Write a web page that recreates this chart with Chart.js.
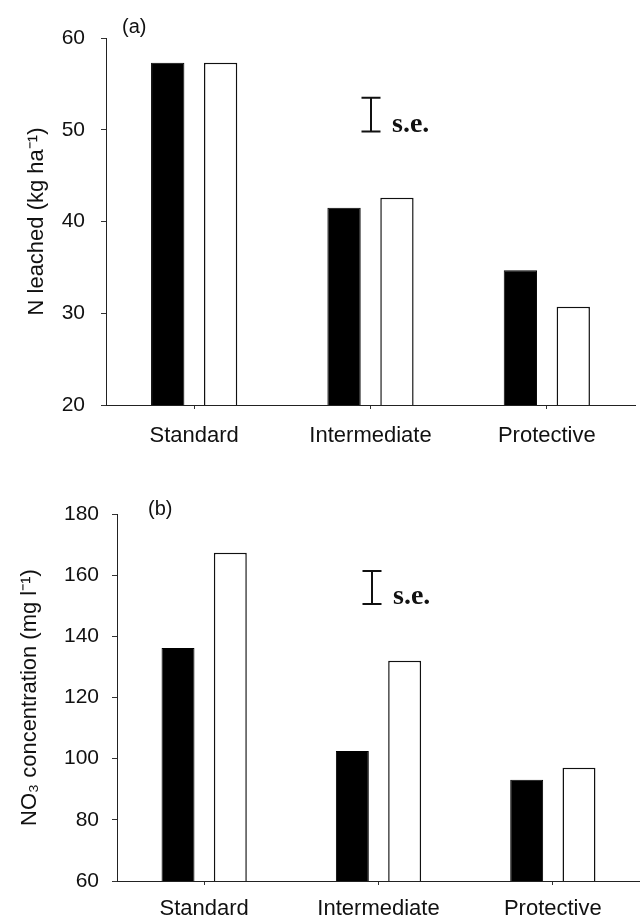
<!DOCTYPE html>
<html>
<head>
<meta charset="utf-8">
<script src="https://cdn.jsdelivr.net/npm/chart.js@4.4.1/dist/chart.umd.min.js"></script>
<style>
body{margin:0;background:#fff;width:640px;height:921px;position:relative;overflow:hidden;font-family:"Liberation Sans",Arial,sans-serif}
canvas{position:absolute;left:0}
#cvA{top:0}
#cvB{top:460px}
.tag{position:absolute;font-size:20px;color:#111;line-height:22px}
</style>
</head>
<body>
<canvas id="cvA" width="640" height="460"></canvas>
<canvas id="cvB" width="640" height="461"></canvas>
<div class="tag" style="left:122px;top:15px">(a)</div>
<div class="tag" style="left:148px;top:497px">(b)</div>
<script>
const systems = ['Standard', 'Intermediate', 'Protective'];

// (a) N leached, kg/ha
const leachedBlack = [57.3, 41.5, 34.7];
const leachedWhite = [57.3, 42.6, 30.7];
const leachedTicks = [20, 30, 40, 50, 60];
const leachedSE = [49.8, 53.5];

// (b) NO3 concentration, mg/l
const nitrateBlack = [136.2, 102.5, 93.1];
const nitrateWhite = [167.3, 132.0, 97.0];
const nitrateTicks = [60, 80, 100, 120, 140, 160, 180];
const nitrateSE = [150.6, 161.4];

const FONT = '"Liberation Sans", Arial, sans-serif';

// the little "I s.e." marker
const seBar = {
  id: 'seBar',
  afterDatasetsDraw(chart, args, opts) {
    const {ctx, scales: {x, y}} = chart;
    const px = Math.round(x.getPixelForValue(opts.at));
    const top = y.getPixelForValue(opts.range[1]);
    const bot = y.getPixelForValue(opts.range[0]);
    ctx.save();
    ctx.strokeStyle = '#111';
    ctx.lineWidth = 2;
    ctx.beginPath();
    ctx.moveTo(px, top); ctx.lineTo(px, bot);
    ctx.moveTo(px - 9.5, top); ctx.lineTo(px + 9.5, top);
    ctx.moveTo(px - 9.5, bot); ctx.lineTo(px + 9.5, bot);
    ctx.stroke();
    ctx.fillStyle = '#111';
    ctx.font = 'bold 28px "Liberation Serif", "Times New Roman", serif';
    ctx.textBaseline = 'alphabetic';
    ctx.fillText('s.e.', px + 21, bot);
    ctx.restore();
  }
};

function makePanel(id, black, white, ticks, se, cfg) {
  return new Chart(document.getElementById(id), {
    type: 'bar',
    data: {
      labels: systems,
      datasets: [{
        data: black,
        backgroundColor: '#000',
        borderColor: '#000',
        borderWidth: 1
      }, {
        data: white,
        backgroundColor: '#fff',
        borderColor: '#111',
        borderWidth: 1.5
      }]
    },
    plugins: [seBar],
    options: {
      responsive: false,
      animation: false,
      categoryPercentage: 0.6,
      barPercentage: 0.63,
      layout: {padding: {top: cfg.top, right: cfg.right, left: 0, bottom: 0}},
      plugins: {
        legend: {display: false},
        tooltip: {enabled: false},
        seBar: {at: cfg.seAt, range: se}
      },
      scales: {
        x: {
          // labels are clipped to the scale box, so keep it tall enough
          afterFit: s => { s.height = cfg.xHeight; },
          grid: {drawOnChartArea: false, offset: false, tickLength: 4, color: '#333'},
          border: {color: '#222', width: 1},
          ticks: {color: '#111', padding: cfg.xPad, font: {family: FONT, size: 22}}
        },
        y: {
          min: ticks[0],
          max: ticks[ticks.length - 1],
          afterFit: s => { s.width = cfg.yWidth; },
          grid: {drawOnChartArea: false, tickLength: 5, color: '#333'},
          border: {color: '#222', width: 1},
          ticks: {
            stepSize: ticks[1] - ticks[0],
            color: '#111',
            padding: cfg.yPad,
            font: {family: FONT, size: 21}
          },
          title: {
            display: true,
            text: cfg.title,
            color: '#111',
            padding: {top: cfg.titlePad, bottom: 0},
            font: {family: FONT, size: 22}
          }
        }
      }
    }
  });
}

makePanel('cvA', leachedBlack, leachedWhite, leachedTicks, leachedSE, {
  top: 38, right: 5, xHeight: 55, yWidth: 106, xPad: 14, yPad: 16, titlePad: 24,
  seAt: 1.0, title: 'N leached (kg ha\u207B\u00B9)'
});

makePanel('cvB', nitrateBlack, nitrateWhite, nitrateTicks, nitrateSE, {
  top: 54, right: -3, xHeight: 40, yWidth: 117, xPad: 11, yPad: 13, titlePad: 17,
  seAt: 0.96, title: 'NO\u2083 concentration (mg l\u207B\u00B9)'
});
</script>
</body>
</html>
